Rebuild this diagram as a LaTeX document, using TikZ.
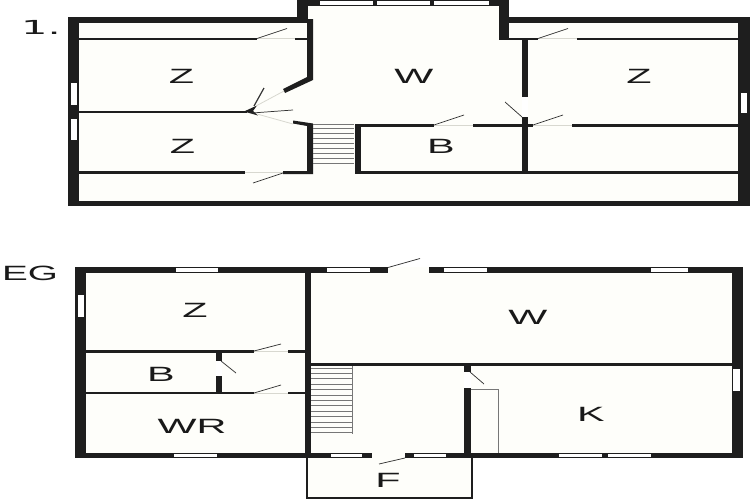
\documentclass[tikz,border=0pt]{standalone}
\usepackage{fontspec}
\setmainfont{Liberation Sans}
\newfontfamily\digitfont{DejaVu Sans}
\definecolor{wallc}{HTML}{1E1E1E}
\definecolor{floorc}{HTML}{FEFEFA}
\definecolor{leafc}{HTML}{333333}
\definecolor{stairc}{HTML}{777777}
\definecolor{sillc}{HTML}{D8D8D0}
\tikzset{
  wall/.style={fill=wallc,draw=none},
  floorarea/.style={fill=floorc,draw=none},
  pane/.style={fill=white,draw=none},
  leaf/.style={draw=leafc,line width=0.55pt},
  sill/.style={draw=sillc,line width=0.6pt},
  partition/.style={draw=wallc,line width=1.9pt},
  stairline/.style={draw=stairc,line width=0.6pt},
  room/.style={font=\fontsize{15.5}{16}\selectfont,text=black!90,xscale=2.0,inner sep=0pt},
  level/.style={font=\fontsize{15.5}{16}\selectfont,text=black!90,xscale=1.87,inner sep=0pt},
}
\begin{document}
\begin{tikzpicture}[x=0.75pt,y=-0.75pt]
\useasboundingbox (0,0) rectangle (750,500);
\fill[white] (0,0) rectangle (750,500);

%%%%% UPPER FLOOR
\path[floorarea] (68,17) rectangle (750,206);
\path[floorarea] (297,0) rectangle (509,40);
% outer walls
\path[wall] (68,17) rectangle (79,206);
\path[wall] (68,17) rectangle (308,23);
\path[wall] (68,201) rectangle (750,206);
\path[wall] (738,17) rectangle (750,206);
\path[wall] (509,17) rectangle (750,23);
\path[wall] (297,0) rectangle (308,23);
\path[wall] (297,0) rectangle (509,5.5);
\path[wall] (499,0) rectangle (509,40);
% windows
\path[pane] (71,83) rectangle (77,105);
\path[pane] (71,119) rectangle (77,140);
\path[pane] (741,93) rectangle (747,113);
\path[pane] (320,1.2) rectangle (372.5,4.5);
\path[pane] (377,1.2) rectangle (430,4.5);
\path[pane] (434,1.2) rectangle (489,4.5);
% left block partitions
\path[wall] (307,19) -- (313,19) -- (313,80) -- (285,93) -- (283,89) -- (307,77) -- cycle;
\path[wall] (293,120.5) -- (313,123.5) -- (313,174) -- (283,174) -- (283,171) -- (307,171) -- (307,126) -- (293,123.5) -- cycle;
\draw[partition] (79,39) -- (257,39);
\draw[partition] (295,39) -- (307,39);
\draw[partition] (79,172.5) -- (245,172.5);
\draw[partition] (79,112) -- (247,112);
\path[wall] (244,111.5) -- (257,105.5) -- (253,111) -- (258,115.5) -- cycle;
\path[wall] (68,105) rectangle (79,119);
% door sills and leaves, left block
\draw[sill] (257,38) -- (295,38);
\draw[sill] (245,172) -- (283,172);
\draw[sill] (256,106) -- (284,91);
\draw[sill] (257,114) -- (293,124);
\draw[leaf] (257,38.5) -- (287,28.5);
\draw[leaf] (283,173) -- (253,183);
\draw[leafc,line width=0.9pt] (254,106) -- (264,88);
\draw[leaf] (252,113) -- (293,110);
% stairs
\foreach \sy in {124,128.7,133.5,138.2,143,148,153,158,163}{
  \draw[stairline] (313,\sy) -- (354,\sy);
}
% B room and right block
\path[wall] (355,124) rectangle (361,174);
\draw[partition] (355,125.5) -- (434,125.5);
\draw[partition] (473,125.5) -- (522,125.5);
\draw[partition] (355,172.5) -- (738,172.5);
\path[wall] (522,39) rectangle (528,97);
\path[wall] (522,117) rectangle (528,173);
\path[pane] (522,97) rectangle (528,117);
\draw[partition] (528,125.5) -- (533,125.5);
\draw[partition] (572,125.5) -- (738,125.5);
\draw[partition] (499,39) -- (538,39);
\draw[partition] (577,39) -- (738,39);
\draw[sill] (434,125.5) -- (473,125.5);
\draw[sill] (533,125.5) -- (572,125.5);
\draw[sill] (538,38) -- (577,38);
\draw[leaf] (434,125) -- (464,115);
\draw[leaf] (533,125) -- (563,115);
\draw[leaf] (538,38.5) -- (568,28.5);
\draw[leaf] (522,117) -- (505,102);

%%%%% GROUND FLOOR
\path[floorarea] (75,267) rectangle (743,458);
\path[floorarea] (307,458) rectangle (472,498);
% outer walls
\path[wall] (75,267) rectangle (86,458);
\path[wall] (75,267) rectangle (743,272.5);
\path[wall] (75,452.5) rectangle (743,458);
\path[wall] (732,267) rectangle (743,458);
% top openings
\path[pane] (176,268) rectangle (218,272);
\path[pane] (327,268) rectangle (370,272);
\path[floorarea] (388,267) rectangle (429,272.5);
\path[pane] (444,268) rectangle (487,272);
\path[pane] (651,268) rectangle (687.5,272);
% side windows
\path[pane] (77.5,295) rectangle (84,316.5);
\path[pane] (733,369) rectangle (740,391);
% bottom openings
\path[pane] (174,454) rectangle (217,457);
\path[pane] (331,454) rectangle (362,457);
\path[floorarea] (372,452.5) rectangle (405,458);
\path[pane] (414,454) rectangle (446,457);
\path[pane] (559,454) rectangle (602,457);
\path[pane] (608,454) rectangle (651,457);
\draw[leaf] (388,267.5) -- (420,258.5);
% partitions
\path[wall] (304.5,272) rectangle (310.5,458);
\draw[partition] (310,364.7) -- (732,364.7);
\draw[partition] (86,351.5) -- (254,351.5);
\draw[partition] (288,351.5) -- (305,351.5);
\draw[partition] (86,393) -- (254,393);
\draw[partition] (288,393) -- (305,393);
\draw[sill] (254,351) -- (288,351);
\draw[sill] (254,393) -- (288,393);
\draw[leaf] (254,351) -- (281,344);
\draw[leaf] (254,393) -- (281,385);
\path[wall] (216,352) rectangle (222,393);
\path[pane] (216,361) rectangle (222,376);
\draw[leaf] (221,361) -- (236,373);
% stairs
\foreach \k in {0,...,12}{
  \draw[stairline] (311,368+\k*5.4) -- (352,368+\k*5.4);
}
\draw[stairline] (352,366) -- (352,434);
% kitchen
\path[wall] (464,366) rectangle (470.5,453);
\path[pane] (464,372) rectangle (470.5,388);
\draw[leaf] (470,372) -- (484,384);
\draw[draw=stairc,line width=0.75pt] (471,389) -- (498,389) -- (498,453);
% porch
\draw[draw=wallc,line width=1.15pt] (307,458) -- (307,498) -- (472,498) -- (472,458);
\draw[leaf] (405,458) -- (379,464);

%%%%% TEXT
\node[level,font=\fontsize{14.5}{15}\digitfont,xscale=1.15] (lvlone) at (41,27) {1.};
\node[level] (lvleg) at (30,273) {EG};
\node[room] (za) at (181.5,76) {Z};
\node[room] (zb) at (182.5,146) {Z};
\node[room] (wa) at (414,76) {W};
\node[room] (ba) at (441,146) {B};
\node[room] (zc) at (639,76) {Z};
\node[room] (zd) at (195,310) {Z};
\node[room] (bb) at (161,374) {B};
\node[room] (wr) at (192,426) {WR};
\node[room] (wb) at (528,317) {W};
\node[room] (ka) at (591,414) {K};
\node[room] (fa) at (388,480) {F};
\end{tikzpicture}
\end{document}
